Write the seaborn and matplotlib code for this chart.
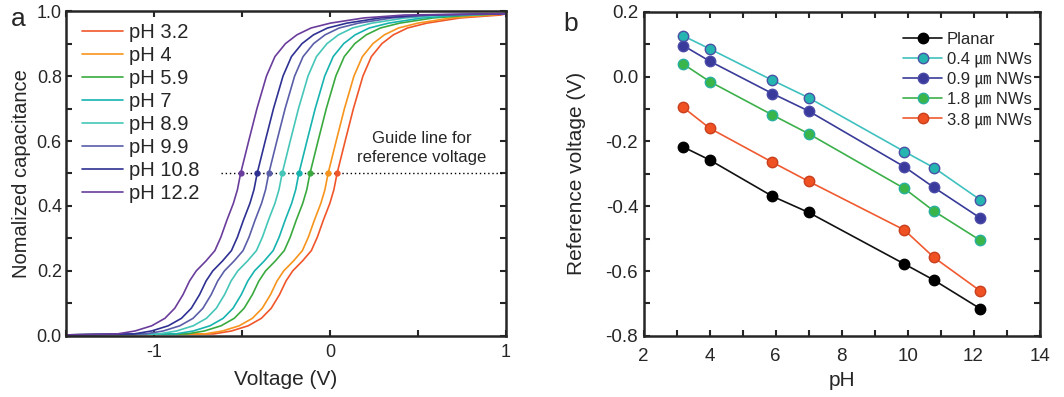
import numpy as np
import pandas as pd
import matplotlib
matplotlib.use("Agg")
import matplotlib.pyplot as plt
from matplotlib.ticker import MultipleLocator
import seaborn as sns

# ---- panel a: normalized C-V curves, voltage read at shared capacitance levels ----
cap_levels = [0.003, 0.006, 0.015, 0.031, 0.054, 0.085, 0.127, 0.169, 0.20, 0.231, 0.2625,
              0.304, 0.356, 0.408, 0.45, 0.50, 0.60, 0.70, 0.80, 0.86, 0.90, 0.927, 0.948,
              0.963, 0.979, 0.988, 0.992]

ph_labels = ["pH 3.2", "pH 4", "pH 5.9", "pH 7", "pH 8.9", "pH 9.9", "pH 10.8", "pH 12.2"]
curve_colors = ["#f0562a", "#f7941d", "#3aaa3f", "#17b3b0", "#45c6b8", "#5a5ea8", "#2e3192", "#6a3d9c"]

v_ph32 = [-1.5, -0.66, -0.56, -0.465, -0.39, -0.334, -0.287, -0.25, -0.212, -0.156, -0.106,
          -0.072, -0.038, -0.001, 0.022, 0.040, 0.086, 0.133, 0.187, 0.235, 0.295, 0.36,
          0.44, 0.55, 0.74, 0.97, 1.0]
v_ph4 = [-1.5, -0.711, -0.611, -0.516, -0.441, -0.385, -0.338, -0.301, -0.263, -0.207, -0.157,
         -0.123, -0.089, -0.052, -0.029, -0.011, 0.035, 0.082, 0.136, 0.184, 0.244, 0.309,
         0.389, 0.499, 0.689, 0.919, 1.0]
v_ph59 = [-1.5, -0.814, -0.714, -0.619, -0.544, -0.488, -0.441, -0.404, -0.366, -0.31, -0.26,
          -0.226, -0.192, -0.155, -0.132, -0.114, -0.068, -0.021, 0.033, 0.081, 0.141, 0.206,
          0.286, 0.396, 0.586, 0.816, 1.0]
v_ph7 = [-1.5, -0.877, -0.777, -0.682, -0.607, -0.551, -0.504, -0.467, -0.429, -0.373, -0.323,
         -0.289, -0.255, -0.218, -0.195, -0.177, -0.131, -0.084, -0.03, 0.018, 0.078, 0.143,
         0.223, 0.333, 0.523, 0.753, 1.0]
v_ph89 = [-1.5, -0.972, -0.872, -0.777, -0.702, -0.646, -0.599, -0.562, -0.524, -0.468, -0.418,
          -0.384, -0.35, -0.313, -0.29, -0.272, -0.226, -0.179, -0.125, -0.077, -0.017, 0.048,
          0.128, 0.238, 0.428, 0.658, 1.0]
v_ph99 = [-1.5, -1.048, -0.948, -0.853, -0.778, -0.722, -0.675, -0.638, -0.6, -0.544, -0.494,
          -0.46, -0.426, -0.389, -0.366, -0.348, -0.302, -0.255, -0.201, -0.153, -0.093, -0.028,
          0.052, 0.162, 0.352, 0.582, 1.0]
v_ph108 = [-1.5, -1.114, -1.014, -0.919, -0.844, -0.788, -0.741, -0.704, -0.666, -0.61, -0.56,
           -0.526, -0.492, -0.455, -0.432, -0.414, -0.368, -0.321, -0.267, -0.219, -0.159, -0.094,
           -0.014, 0.096, 0.286, 0.516, 1.0]
v_ph122 = [-1.5, -1.208, -1.108, -1.013, -0.938, -0.882, -0.835, -0.798, -0.76, -0.704, -0.654,
           -0.62, -0.586, -0.549, -0.526, -0.508, -0.462, -0.415, -0.361, -0.313, -0.253, -0.188,
           -0.108, 0.002, 0.192, 0.422, 1.0]
curves_v = [v_ph32, v_ph4, v_ph59, v_ph7, v_ph89, v_ph99, v_ph108, v_ph122]

# reference voltages where each curve crosses C = 0.5
guide_c = 0.5
ref_v_a = [0.040, -0.011, -0.114, -0.177, -0.272, -0.348, -0.414, -0.508]

# ---- panel b: reference voltage vs pH ----
ph_values = [3.2, 4.0, 5.9, 7.0, 9.9, 10.8, 12.2]
series_names = ["Planar", "0.4 ㎛ NWs", "0.9 ㎛ NWs", "1.8 ㎛ NWs", "3.8 ㎛ NWs"]
vref_planar = [-0.217, -0.257, -0.369, -0.419, -0.578, -0.628, -0.716]
vref_04 = [0.126, 0.086, -0.011, -0.065, -0.231, -0.281, -0.380]
vref_09 = [0.096, 0.048, -0.052, -0.106, -0.278, -0.342, -0.436]
vref_18 = [0.039, -0.015, -0.118, -0.176, -0.345, -0.415, -0.505]
vref_38 = [-0.095, -0.159, -0.264, -0.323, -0.473, -0.558, -0.661]
series_vals = [vref_planar, vref_04, vref_09, vref_18, vref_38]
line_colors = ["#111111", "#3fc1bf", "#393b98", "#3cb04a", "#f05a30"]
face_colors = ["#000000", "#25b4b0", "#3a3a9c", "#3ab54a", "#ef5123"]
edge_colors = ["#000000", "#4a52a6", "#4a4aa8", "#2ab0a0", "#c8401e"]

sns.set_style("ticks")
plt.rcParams['font.family'] = ['Liberation Sans', 'Noto Sans CJK KR', 'DejaVu Sans']
plt.rcParams['axes.linewidth'] = 1.8
plt.rcParams['xtick.direction'] = 'in'
plt.rcParams['ytick.direction'] = 'in'
plt.rcParams['xtick.major.width'] = 1.5
plt.rcParams['ytick.major.width'] = 1.5
plt.rcParams['xtick.minor.width'] = 1.5
plt.rcParams['ytick.minor.width'] = 1.5
plt.rcParams['xtick.major.size'] = 4
plt.rcParams['ytick.major.size'] = 4
plt.rcParams['xtick.minor.size'] = 4
plt.rcParams['ytick.minor.size'] = 4

fig = plt.figure(figsize=(10.64, 3.97), dpi=100)
ax1 = fig.add_axes([0.062, 0.154, 0.4136, 0.818])
ax2 = fig.add_axes([0.605, 0.154, 0.372, 0.816])

# panel a
for lab, col, vs in zip(ph_labels, curve_colors, curves_v):
    sns.lineplot(x=vs, y=cap_levels, ax=ax1, color=col, lw=1.2, label=lab, sort=False)
ax1.plot([-0.62, 0.98], [guide_c, guide_c], ls=(0, (1, 2)), color='black', lw=1.0, zorder=1)
for col, v in zip(curve_colors, ref_v_a):
    ax1.plot(v, guide_c, 'o', color=col, ms=3.5, zorder=3)
ax1.text(0.52, 0.578, "Guide line for\nreference voltage", ha='center', va='center',
         fontsize=12, linespacing=1.35)
ax1.set_xlim(-1.5, 1.0)
ax1.set_ylim(0.0, 1.0)
ax1.xaxis.set_major_locator(MultipleLocator(1))
ax1.xaxis.set_minor_locator(MultipleLocator(0.5))
ax1.yaxis.set_major_locator(MultipleLocator(0.2))
ax1.yaxis.set_minor_locator(MultipleLocator(0.1))
ax1.set_yticks([0.0, 0.2, 0.4, 0.6, 0.8, 1.0])
ax1.set_yticklabels(["0.0", "0.2", "0.4", "0.6", "0.8", "1.0"])
ax1.set_xticks([-1, 0, 1])
ax1.set_xticklabels(["-1", "0", "1"])
ax1.tick_params(which='both', top=True, right=True, labelsize=13, pad=3)
ax1.tick_params(axis='x', pad=6)
ax1.set_xlabel("Voltage (V)", fontsize=15, labelpad=6)
ax1.set_ylabel("Nomalized capacitance", fontsize=14.5, labelpad=4)
ax1.legend(loc='upper left', frameon=False, fontsize=14.5, handlelength=2.0,
           handletextpad=0.3, labelspacing=0.2, borderaxespad=0.2,
           bbox_to_anchor=(0.01, 1.0))

# panel b
for name, vals, lc, fc, ec in zip(series_names, series_vals, line_colors, face_colors, edge_colors):
    sns.lineplot(x=ph_values, y=vals, ax=ax2, color=lc, lw=1.2, marker='o', ms=7.5,
                 markerfacecolor=fc, markeredgecolor=ec, markeredgewidth=1.0, label=name)
ax2.set_xlim(2, 14)
ax2.set_ylim(-0.8, 0.2)
ax2.xaxis.set_major_locator(MultipleLocator(2))
ax2.xaxis.set_minor_locator(MultipleLocator(1))
ax2.yaxis.set_major_locator(MultipleLocator(0.2))
ax2.yaxis.set_minor_locator(MultipleLocator(0.1))
ax2.set_yticks([-0.8, -0.6, -0.4, -0.2, 0.0, 0.2])
ax2.set_yticklabels(["-0.8", "-0.6", "-0.4", "-0.2", "0.0", "0.2"])
ax2.tick_params(which='both', top=True, right=True, labelsize=13.5, pad=4)
ax2.tick_params(axis='x', pad=9)
ax2.set_xlabel("pH", fontsize=15, labelpad=4)
ax2.set_ylabel("Reference voltage (V)", fontsize=15, labelpad=14)
ax2.legend(loc='upper right', frameon=False, fontsize=12, handlelength=2.3,
           handletextpad=0.3, labelspacing=0.28, borderaxespad=0.3,
           bbox_to_anchor=(1.01, 0.975))

fig.text(0.010, 0.952, "a", fontsize=19, ha='left', va='center')
fig.text(0.529, 0.94, "b", fontsize=19, ha='left', va='center')

fig.savefig("out.png", dpi=100)
